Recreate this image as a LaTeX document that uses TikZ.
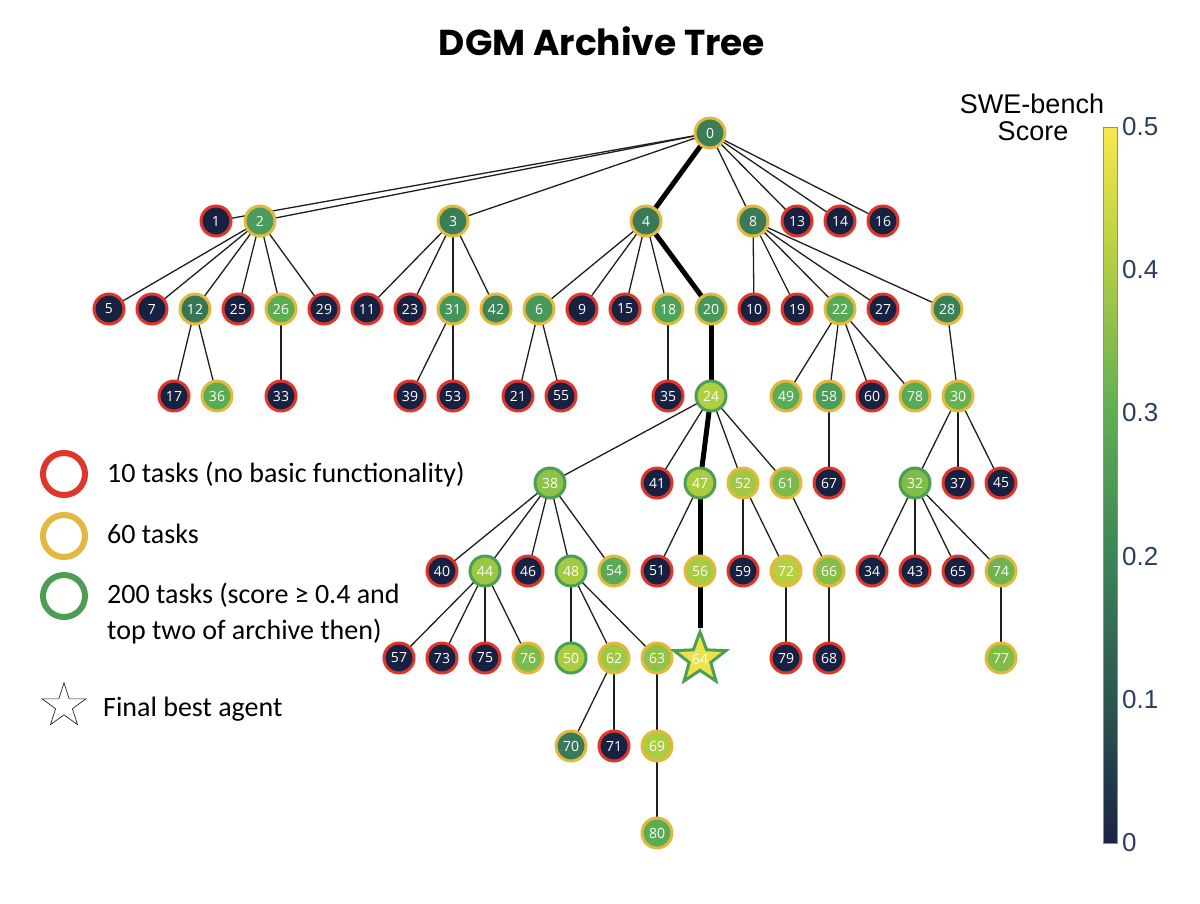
\documentclass[tikz,border=0pt]{standalone}
\usepackage{fontspec}
\setmainfont{Carlito}
\newfontfamily\numfont{Open Sans}
\newfontfamily\titlefont{Poppins}
\newfontfamily\cbfont{Liberation Sans}
\usetikzlibrary{shapes.geometric,backgrounds}
\definecolor{dk}{HTML}{172243}
\definecolor{redb}{HTML}{E0352B}
\definecolor{yelb}{HTML}{E3B83E}
\definecolor{grnb}{HTML}{4C9E55}
\definecolor{edgec}{HTML}{1E1E1E}
\definecolor{tickc}{HTML}{2A3F5F}
\definecolor{cb0}{HTML}{1B2343}
\definecolor{cb1}{HTML}{2C5650}
\definecolor{cb2}{HTML}{3C8458}
\definecolor{cb3}{HTML}{60AD53}
\definecolor{cb4}{HTML}{AECC44}
\definecolor{cb5}{HTML}{F9E84B}
\definecolor{f0}{HTML}{3B7D57}
\definecolor{f2}{HTML}{4A9C5C}
\definecolor{f3}{HTML}{3A7E57}
\definecolor{f4}{HTML}{3A7957}
\definecolor{f8}{HTML}{3A7B57}
\definecolor{f12}{HTML}{367656}
\definecolor{f26}{HTML}{5BAD52}
\definecolor{f31}{HTML}{44965A}
\definecolor{f42}{HTML}{3C8557}
\definecolor{f6}{HTML}{46995A}
\definecolor{f18}{HTML}{4BA25B}
\definecolor{f20}{HTML}{46995A}
\definecolor{f22}{HTML}{58AA55}
\definecolor{f28}{HTML}{3A8057}
\definecolor{f36}{HTML}{5AAC53}
\definecolor{f24}{HTML}{B0CF40}
\definecolor{f49}{HTML}{5BAC54}
\definecolor{f58}{HTML}{4A9D5A}
\definecolor{f78}{HTML}{58AA55}
\definecolor{f30}{HTML}{66B150}
\definecolor{f38}{HTML}{8CC245}
\definecolor{f47}{HTML}{AACD40}
\definecolor{f52}{HTML}{A0C842}
\definecolor{f61}{HTML}{7ABA4A}
\definecolor{f32}{HTML}{80BD48}
\definecolor{f44}{HTML}{9DC743}
\definecolor{f48}{HTML}{A4CA41}
\definecolor{f54}{HTML}{58AA55}
\definecolor{f56}{HTML}{A8CC40}
\definecolor{f72}{HTML}{B4D03E}
\definecolor{f66}{HTML}{84BE47}
\definecolor{f74}{HTML}{6FB44E}
\definecolor{f76}{HTML}{7CBA4A}
\definecolor{f50}{HTML}{AACD40}
\definecolor{f62}{HTML}{A0C842}
\definecolor{f63}{HTML}{90C345}
\definecolor{f77}{HTML}{80BD48}
\definecolor{f70}{HTML}{37795A}
\definecolor{f69}{HTML}{AACD40}
\definecolor{f80}{HTML}{5AAB55}
\definecolor{f64}{HTML}{EEE24A}
\newcommand\mynode[5]{\node[#4,fill=#5] (n#1) at (#2,#3) {#1};}
\begin{document}
\begin{tikzpicture}[x=1pt,y=-1pt,
  base/.style={circle,inner sep=0pt,minimum size=30pt,line width=3pt,text=white,
    font=\numfont\fontsize{14pt}{14pt}\selectfont},
  rn/.style={base,draw=redb},
  yn/.style={base,draw=yelb},
  gn/.style={base,draw=grnb},
  edge/.style={draw=edgec,line width=1.3pt},
  bestedge/.style={draw=black,line width=5pt},
  legtext/.style={anchor=base west,inner sep=0pt,font=\fontsize{28pt}{30pt}\selectfont}]
\useasboundingbox (0,0) rectangle (1200,903);
% title
\node[anchor=base,inner sep=0pt,font=\titlefont\bfseries\fontsize{36pt}{40pt}\selectfont] (title) at (602,55) {DGM Archive Tree};
% nodes
\mynode{0}{710}{133}{yn}{f0}
\mynode{1}{216}{221}{rn}{dk}
\mynode{2}{260}{221}{yn}{f2}
\mynode{3}{453}{221}{yn}{f3}
\mynode{4}{646}{221}{yn}{f4}
\mynode{8}{753}{221}{yn}{f8}
\mynode{13}{797}{221}{rn}{dk}
\mynode{14}{840}{221}{rn}{dk}
\mynode{16}{883}{221}{rn}{dk}
\mynode{5}{109}{309}{rn}{dk}
\mynode{7}{152}{309}{rn}{dk}
\mynode{12}{195}{309}{yn}{f12}
\mynode{25}{238}{309}{rn}{dk}
\mynode{26}{281}{309}{yn}{f26}
\mynode{29}{324}{309}{rn}{dk}
\mynode{11}{367}{309}{rn}{dk}
\mynode{23}{410}{309}{rn}{dk}
\mynode{31}{453}{309}{yn}{f31}
\mynode{42}{496}{309}{yn}{f42}
\mynode{6}{539}{309}{yn}{f6}
\mynode{9}{582}{309}{rn}{dk}
\mynode{15}{625}{309}{rn}{dk}
\mynode{18}{668}{309}{yn}{f18}
\mynode{20}{711}{309}{yn}{f20}
\mynode{10}{754}{309}{rn}{dk}
\mynode{19}{797}{309}{rn}{dk}
\mynode{22}{840}{309}{yn}{f22}
\mynode{27}{883}{309}{rn}{dk}
\mynode{28}{947}{309}{yn}{f28}
\mynode{17}{174}{396}{rn}{dk}
\mynode{36}{217}{396}{yn}{f36}
\mynode{33}{281}{396}{rn}{dk}
\mynode{39}{410}{396}{rn}{dk}
\mynode{53}{453}{396}{rn}{dk}
\mynode{21}{518}{396}{rn}{dk}
\mynode{55}{561}{396}{rn}{dk}
\mynode{35}{668}{396}{rn}{dk}
\mynode{24}{711}{396}{gn}{f24}
\mynode{49}{786}{396}{yn}{f49}
\mynode{58}{829}{396}{yn}{f58}
\mynode{60}{872}{396}{rn}{dk}
\mynode{78}{915}{396}{yn}{f78}
\mynode{30}{958}{396}{yn}{f30}
\mynode{38}{550}{483}{gn}{f38}
\mynode{41}{657}{483}{rn}{dk}
\mynode{47}{700}{483}{gn}{f47}
\mynode{52}{743}{483}{yn}{f52}
\mynode{61}{786}{483}{yn}{f61}
\mynode{67}{829}{483}{rn}{dk}
\mynode{32}{915}{483}{gn}{f32}
\mynode{37}{958}{483}{rn}{dk}
\mynode{45}{1001}{483}{rn}{dk}
\mynode{40}{442}{571}{rn}{dk}
\mynode{44}{485}{571}{gn}{f44}
\mynode{46}{528}{571}{rn}{dk}
\mynode{48}{571}{571}{gn}{f48}
\mynode{54}{614}{571}{yn}{f54}
\mynode{51}{657}{571}{rn}{dk}
\mynode{56}{700}{571}{yn}{f56}
\mynode{59}{743}{571}{rn}{dk}
\mynode{72}{786}{571}{yn}{f72}
\mynode{66}{829}{571}{yn}{f66}
\mynode{34}{872}{571}{rn}{dk}
\mynode{43}{915}{571}{rn}{dk}
\mynode{65}{958}{571}{rn}{dk}
\mynode{74}{1001}{571}{yn}{f74}
\mynode{57}{399}{658}{rn}{dk}
\mynode{73}{442}{658}{rn}{dk}
\mynode{75}{485}{658}{rn}{dk}
\mynode{76}{528}{658}{yn}{f76}
\mynode{50}{571}{658}{gn}{f50}
\mynode{62}{614}{658}{yn}{f62}
\mynode{63}{657}{658}{yn}{f63}
\mynode{79}{786}{658}{rn}{dk}
\mynode{68}{829}{658}{rn}{dk}
\mynode{77}{1001}{658}{yn}{f77}
\mynode{70}{571}{746}{yn}{f70}
\mynode{71}{614}{746}{rn}{dk}
\mynode{69}{657}{746}{yn}{f69}
\mynode{80}{657}{833}{yn}{f80}
\node[star,star points=5,star point ratio=2.4,minimum size=40pt,inner sep=0pt,
  line width=3pt,draw=grnb,fill=f64,text=white,
  font=\numfont\fontsize{14pt}{14pt}\selectfont] (n64) at (700,659) {64};
% edges
\begin{pgfonlayer}{background}
\foreach \a/\b in {0/1,0/2,0/3,0/8,0/13,0/14,0/16,
  2/5,2/7,2/12,2/25,2/26,2/29,3/11,3/23,3/31,3/42,
  4/6,4/9,4/15,4/18,8/10,8/19,8/22,8/27,8/28,
  12/17,12/36,26/33,31/39,31/53,6/21,6/55,18/35,
  22/49,22/58,22/60,22/78,28/30,
  24/38,24/41,24/52,24/61,58/67,30/32,30/37,30/45,
  38/40,38/44,38/46,38/48,38/54,47/51,52/59,52/72,61/66,
  32/34,32/43,32/65,32/74,
  44/57,44/73,44/75,44/76,48/50,48/62,48/63,72/79,66/68,74/77,
  62/70,62/71,63/69,69/80}
  \draw[edge] (n\a.center) -- (n\b.center);
\foreach \a/\b in {0/4,4/20,20/24,24/47,47/56}
  \draw[bestedge] (n\a.center) -- (n\b.center);
\draw[bestedge] (n56.center) -- (n64);
\end{pgfonlayer}
% legend
\node[circle,draw=redb,line width=6pt,minimum size=42pt,inner sep=0pt] (lred) at (64,474) {};
\node[circle,draw=yelb,line width=6pt,minimum size=42pt,inner sep=0pt] (lyel) at (64,536) {};
\node[circle,draw=grnb,line width=6pt,minimum size=42pt,inner sep=0pt] (lgrn) at (64,596) {};
\node[star,star points=5,star point ratio=2.6,minimum size=46pt,inner sep=0pt,
  draw=black!85,line width=0.7pt] (lstar) at (64,706) {};
\node[legtext] (t1) at (107,482) {10 tasks (no basic functionality)};
\node[legtext] (t2) at (107,543) {60 tasks};
\node[legtext] (t3) at (107,603) {200 tasks (score ≥ 0.4 and};
\node[legtext] (t4) at (107,639) {top two of archive then)};
\node[legtext] (t5) at (103,716) {Final best agent};
% colorbar
\foreach \a/\b/\i in {cb0/cb1/0,cb1/cb2/1,cb2/cb3/2,cb3/cb4/3,cb4/cb5/4}{
  \foreach \k in {0,...,29}{
    \pgfmathsetmacro\p{(\k+0.5)*100/30}
    \pgfmathsetmacro\ya{843-143.2*\i-\k*4.7733}
    \fill[\b!\p!\a] (1103,\ya) rectangle (1117,\ya-5.2);
  }
}
\draw[black!45,line width=0.6pt] (1103,127) rectangle (1117,843);
\foreach \v/\yy in {0.5/127,0.4/270,0.3/413,0.2/557,0.1/700,0/843}
  \node[anchor=west,inner sep=0pt,text=tickc,font=\cbfont\fontsize{26pt}{28pt}\selectfont] at (1122,\yy) {\v};
\node[anchor=base,inner sep=0pt,font=\cbfont\fontsize{27pt}{29pt}\selectfont] (cbt1) at (1032,113) {SWE-bench};
\node[anchor=base,inner sep=0pt,font=\cbfont\fontsize{27pt}{29pt}\selectfont] (cbt2) at (1033,140) {Score};
\end{tikzpicture}
\end{document}
